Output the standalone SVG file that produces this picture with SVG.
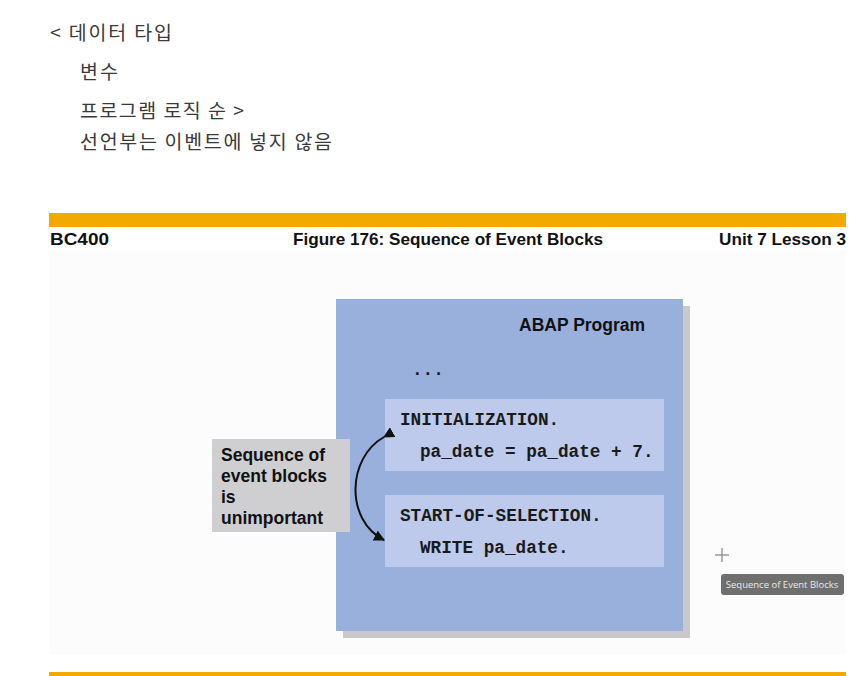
<svg xmlns="http://www.w3.org/2000/svg" width="859" height="676" viewBox="0 0 859 676">
<defs>
<style>
.kr{font-family:"Noto Sans CJK KR","Noto Sans",sans-serif;font-size:19.5px;fill:#3a3a3a}
.hd{font-family:"Liberation Sans",Arial,sans-serif;font-weight:bold;font-size:17px;fill:#111}
.bl{font-family:"Liberation Sans",Arial,sans-serif;font-weight:bold;font-size:17.5px;fill:#111}
.mono{font-family:"Liberation Mono","Courier New",monospace;font-weight:bold;font-size:17.7px;fill:#1a1a1a}
.ev{fill:#bdcaeb}
</style>
<marker id="ah" viewBox="0 0 10 10" refX="9" refY="5" markerWidth="5.5" markerHeight="5.5" orient="auto">
<path d="M0,0 L10,5 L0,10 z" fill="#111"/>
</marker>
</defs>
<rect width="859" height="676" fill="#fff"/>
<g id="notes">
<text class="kr" x="50" y="40" textLength="122" lengthAdjust="spacing">&lt; 데이터 타입</text>
<text class="kr" x="80" y="79" textLength="38" lengthAdjust="spacing">변수</text>
<text class="kr" x="80" y="118" textLength="164" lengthAdjust="spacing">프로그램 로직 순 &gt;</text>
<text class="kr" x="80" y="149" textLength="252" lengthAdjust="spacing">선언부는 이벤트에 넣지 않음</text>
</g>
<g id="slide-frame">
<rect x="49" y="250" width="797" height="405" fill="#fcfcfc"/>
<rect x="49" y="213" width="797" height="14" fill="#f2a900"/>
<rect x="49" y="672" width="797" height="4" fill="#f2a900"/>
<text class="hd" x="50" y="245" textLength="59" lengthAdjust="spacingAndGlyphs">BC400</text>
<text class="hd" x="293" y="245" textLength="310" lengthAdjust="spacingAndGlyphs">Figure 176: Sequence of Event Blocks</text>
<text class="hd" x="719" y="245" textLength="127" lengthAdjust="spacingAndGlyphs">Unit 7 Lesson 3</text>
</g>
<g id="abap-program">
<rect x="343" y="306" width="347" height="332" fill="#c9c9c9"/>
<rect x="336" y="299" width="347" height="332" fill="#99afdc"/>
<text class="bl" x="519" y="331">ABAP Program</text>
<text class="mono" x="412" y="375">...</text>
</g>
<g id="initialization">
<rect class="ev" x="385" y="399" width="279" height="72"/>
<text class="mono" x="400" y="425">INITIALIZATION.</text>
<text class="mono" x="420" y="457">pa_date = pa_date + 7.</text>
</g>
<g id="start-of-selection">
<rect class="ev" x="385" y="495" width="279" height="72"/>
<text class="mono" x="400" y="521">START-OF-SELECTION.</text>
<text class="mono" x="420" y="553">WRITE pa_date.</text>
</g>
<g id="note">
<rect x="212" y="439" width="138" height="93" fill="#cfcfd1"/>
<text class="bl" x="221" y="461">Sequence of</text>
<text class="bl" x="221" y="482">event blocks</text>
<text class="bl" x="221" y="503">is</text>
<text class="bl" x="221" y="524">unimportant</text>
</g>
<g id="connectors">
<path d="M384,437 C347,458 345,520 384,540" fill="none" stroke="#111" stroke-width="2" marker-start="url(#ah)" marker-end="url(#ah)"/>
</g>
<g id="tooltip">
<path d="M722,548 V562 M715,555 H729" stroke="#999" stroke-width="1.5"/>
<rect x="721" y="574" width="123" height="21" rx="3" fill="#6f6f6f"/>
<text x="782" y="588" text-anchor="middle" font-family="Open Sans,Liberation Sans,sans-serif" font-size="9.5" fill="#e8e8e8">Sequence of Event Blocks</text>
</g>
</svg>
